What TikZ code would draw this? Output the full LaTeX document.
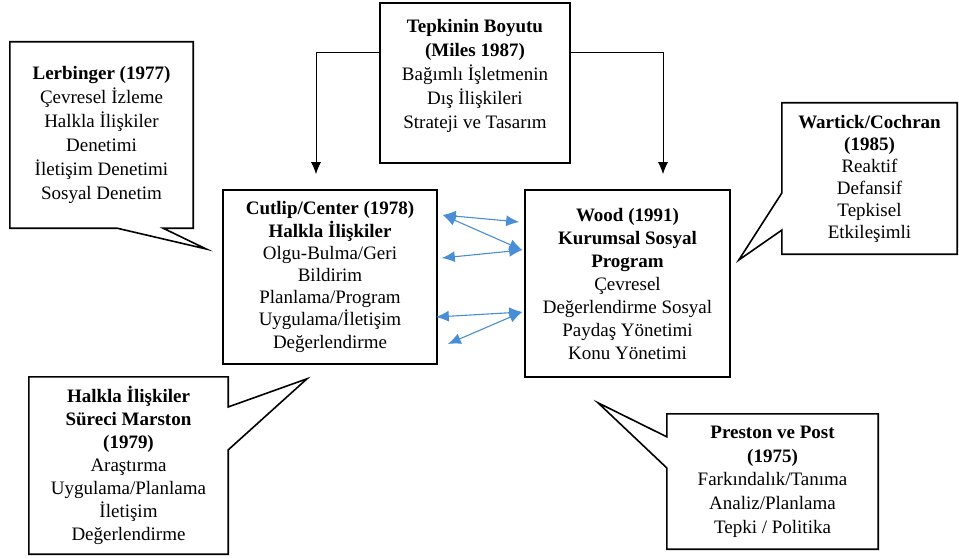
\documentclass[tikz,border=0pt]{standalone}
\usepackage{fontspec}
\setmainfont{Liberation Serif}
\usetikzlibrary{calc,arrows.meta}
\definecolor{okmavi}{RGB}{72,142,214}
\tikzset{
    kutu/.style={rectangle,draw,line width=1.6pt,inner sep=0pt,align=center,node font=\fontsize{19}{23}\selectfont},
    balon/.style={rectangle,draw=none,inner sep=0pt,align=center,node font=\fontsize{19}{23}\selectfont},
    yazi/.style={draw=none,inner sep=0pt,align=center,node font=\fontsize{19}{24}\selectfont},
    balonkenar/.style={draw,line width=1.6pt,line join=miter},
    ok/.style={draw,line width=0.9pt,-{Latex[length=12pt,width=10pt]}},
    cift/.style={draw=okmavi,line width=1.1pt,{Latex[length=13pt,width=11pt]}-{Latex[length=13pt,width=11pt]},okmavi},
}

\begin{document}
\begin{tikzpicture}[x=1pt,y=-1pt]
\useasboundingbox (0,0) rectangle (959,559);

% ana kutular
\node[kutu,minimum width=190,minimum height=160] (tepki) at (475,83) {};
\node[yazi] (tepkiyazi) at (475,76) {\textbf{Tepkinin Boyutu}\\\textbf{(Miles 1987)}\\Bağımlı İşletmenin\\Dış İlişkileri\\Strateji ve Tasarım};
\node[kutu,minimum width=214,minimum height=174,node font=\fontsize{19}{22.2}\selectfont] (cutlip) at (330,277)
    {\textbf{Cutlip/Center (1978)}\\\textbf{Halkla İlişkiler}\\Olgu-Bulma/Geri\\Bildirim\\Planlama/Program\\Uygulama/İletişim\\Değerlendirme};
\node[kutu,minimum width=205,minimum height=187] (wood) at (627.5,283.5)
    {\textbf{Wood (1991)}\\\textbf{Kurumsal Sosyal}\\\textbf{Program}\\Çevresel\\Değerlendirme Sosyal\\Paydaş Yönetimi\\Konu Yönetimi};

% balonlar
\node[balon,minimum width=183,minimum height=186,node font=\fontsize{19}{24}\selectfont] (lerb) at (101.5,135)
    {\textbf{Lerbinger (1977)}\\Çevresel İzleme\\Halkla İlişkiler\\Denetimi\\İletişim Denetimi\\Sosyal Denetim};
\node[balon,minimum width=175,minimum height=151,node font=\fontsize{19}{22}\selectfont] (wart) at (869.5,178.5)
    {\textbf{Wartick/Cochran}\\\textbf{(1985)}\\Reaktif\\Defansif\\Tepkisel\\Etkileşimli};
\node[balon,minimum width=199,minimum height=177] (surec) at (128.5,465.5)
    {\textbf{Halkla İlişkiler}\\\textbf{Süreci Marston}\\\textbf{(1979)}\\Araştırma\\Uygulama/Planlama\\İletişim\\Değerlendirme};
\node[balon,minimum width=211,minimum height=135,node font=\fontsize{19}{23.7}\selectfont] (prest) at (772.5,481.5)
    {\textbf{Preston ve Post}\\\textbf{(1975)}\\Farkındalık/Tanıma\\Analiz/Planlama\\Tepki / Politika};

\coordinate (uc1) at ([xshift=-16pt,yshift=28pt]cutlip.west);
\coordinate (uc2) at ([xshift=8pt,yshift=23.5pt]wood.east);
\coordinate (uc3) at ([xshift=-23pt,yshift=-14pt]cutlip.south);
\coordinate (uc4) at ([xshift=-29.5pt,yshift=-25pt]wood.south);

\path[balonkenar] (lerb.north west) -- (lerb.north east) -- (lerb.south east)
    -- ($(lerb.south west)!0.836!(lerb.south east)$) -- (uc1)
    -- ($(lerb.south west)!0.585!(lerb.south east)$) -- (lerb.south west) -- cycle;
\path[balonkenar] (wart.north west) -- (wart.north east) -- (wart.south east) -- (wart.south west)
    -- ($(wart.north west)!0.841!(wart.south west)$) -- (uc2)
    -- ($(wart.north west)!0.596!(wart.south west)$) -- cycle;
\path[balonkenar] (surec.north west) -- (surec.north east)
    -- ($(surec.north east)!0.17!(surec.south east)$) -- (uc3)
    -- ($(surec.north east)!0.412!(surec.south east)$) -- (surec.south east) -- (surec.south west) -- cycle;
\path[balonkenar] (prest.north west) -- (prest.north east) -- (prest.south east) -- (prest.south west)
    -- ($(prest.north west)!0.4!(prest.south west)$) -- (uc4)
    -- ($(prest.north west)!0.17!(prest.south west)$) -- cycle;

% oklar
\draw[ok] ([yshift=31pt]tepki.west) -| ([xshift=-14pt,yshift=15pt]cutlip.north);
\draw[ok] ([yshift=31pt]tepki.east) -| ([xshift=35.5pt,yshift=15pt]wood.north);

\coordinate (s1) at ([xshift=5pt,yshift=62pt]cutlip.east);
\coordinate (s2) at ([xshift=4pt,yshift=19pt]cutlip.east);
\coordinate (s3) at ([xshift=-2pt,yshift=-40pt]cutlip.east);
\coordinate (s4) at ([xshift=10pt,yshift=-67pt]cutlip.east);
\coordinate (w1) at ([xshift=-5pt,yshift=61.5pt]wood.west);
\coordinate (w2) at ([xshift=-2pt,yshift=33.5pt]wood.west);
\coordinate (w3) at ([xshift=-2pt,yshift=-28.5pt]wood.west);
\draw[cift] (s1) -- (w1);
\draw[cift] (s1) -- (w2);
\draw[cift] (s2) -- (w2);
\draw[cift] (s3) -- (w3);
\draw[cift] (s4) -- (w3);
\end{tikzpicture}
\end{document}
